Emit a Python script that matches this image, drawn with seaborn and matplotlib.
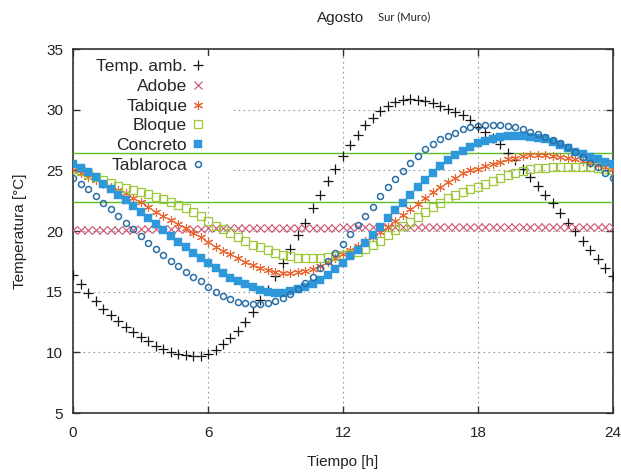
import numpy as np
import matplotlib
matplotlib.use("Agg")
import matplotlib.pyplot as plt
import seaborn as sns

# -----------------------------
# DATOS (una lectura cada 20 min, 0..24 h)
# -----------------------------
tiempo = np.linspace(0, 24, 73)

temp_amb = [16.4, 15.6, 14.9, 14.25, 13.6, 13.05, 12.6, 12.05, 11.7, 11.3,
            10.9, 10.5, 10.25, 10.0, 9.9, 9.75, 9.72, 9.72, 9.9, 10.2,
            10.65, 11.2, 11.8, 12.5, 13.35, 14.3, 15.15, 16.3, 17.4, 18.5,
            19.65, 20.7, 21.9, 23.0, 24.1, 25.15, 26.2, 27.1, 27.95, 28.7,
            29.3, 29.85, 30.3, 30.65, 30.8, 30.9, 30.8, 30.7, 30.55, 30.3,
            30.05, 29.8, 29.55, 29.15, 28.6, 28.2, 27.7, 27.15, 26.45, 25.85,
            25.15, 24.45, 23.75, 23.0, 22.3, 21.5, 20.7, 20.0, 19.2, 18.45,
            17.7, 16.95, 16.3]

adobe = [20.1, 20.1, 20.1, 20.1, 20.1, 20.1, 20.1, 20.1, 20.1, 20.15,
         20.15, 20.15, 20.15, 20.15, 20.15, 20.15, 20.15, 20.15, 20.22, 20.22,
         20.22, 20.22, 20.22, 20.22, 20.22, 20.22, 20.22, 20.28, 20.28, 20.28,
         20.28, 20.28, 20.28, 20.28, 20.28, 20.28, 20.35, 20.35, 20.35, 20.35,
         20.35, 20.35, 20.35, 20.35, 20.35, 20.35, 20.35, 20.35, 20.35, 20.35,
         20.35, 20.35, 20.35, 20.35, 20.35, 20.35, 20.35, 20.35, 20.35, 20.35,
         20.35, 20.35, 20.35, 20.35, 20.35, 20.35, 20.35, 20.35, 20.35, 20.35,
         20.35, 20.35, 20.35]

tabique = [25.03, 24.75, 24.48, 24.2, 23.9, 23.65, 23.4, 23.1, 22.75, 22.35,
           21.95, 21.6, 21.23, 20.9, 20.57, 20.22, 19.86, 19.47, 19.12, 18.72,
           18.37, 18.07, 17.75, 17.47, 17.2, 16.95, 16.78, 16.62, 16.52, 16.52,
           16.6, 16.72, 16.9, 17.12, 17.42, 17.75, 18.1, 18.45, 18.8, 19.15,
           19.5, 19.9, 20.35, 20.85, 21.35, 21.8, 22.25, 22.7, 23.2, 23.65,
           24.05, 24.4, 24.75, 25.0, 25.15, 25.32, 25.52, 25.71, 25.9, 26.04,
           26.18, 26.26, 26.28, 26.28, 26.22, 26.14, 26.04, 25.93, 25.8, 25.63,
           25.44, 25.24, 25.08]

bloque = [25.1, 24.94, 24.67, 24.47, 24.2, 23.95, 23.75, 23.57, 23.42, 23.24,
          23.02, 22.8, 22.6, 22.35, 22.12, 21.86, 21.59, 21.2, 20.8, 20.45,
          20.13, 19.8, 19.5, 19.15, 18.85, 18.65, 18.45, 18.22, 18.03, 17.9,
          17.8, 17.75, 17.74, 17.76, 17.82, 17.9, 18.0, 18.12, 18.3, 18.5,
          18.84, 19.2, 19.66, 20.08, 20.4, 20.76, 21.18, 21.6, 22.0, 22.33,
          22.69, 22.96, 23.24, 23.43, 23.6, 23.85, 24.1, 24.35, 24.6, 24.8,
          24.94, 25.08, 25.16, 25.22, 25.24, 25.26, 25.28, 25.3, 25.3, 25.3,
          25.22, 25.1, 25.0]

concreto = [25.52, 25.16, 24.83, 24.42, 23.9, 23.43, 22.96, 22.55, 22.1, 21.6,
            21.1, 20.57, 20.08, 19.6, 19.12, 18.65, 18.2, 17.75, 17.33, 16.92,
            16.55, 16.15, 15.85, 15.6, 15.35, 15.15, 15.0, 14.92, 14.92, 15.05,
            15.2, 15.4, 15.65, 15.95, 16.37, 16.9, 17.35, 17.93, 18.43, 19.03,
            19.66, 20.35, 21.04, 21.73, 22.33, 22.96, 23.6, 24.2, 24.8, 25.35,
            25.85, 26.26, 26.62, 26.95, 27.25, 27.45, 27.6, 27.72, 27.8, 27.83,
            27.83, 27.77, 27.65, 27.55, 27.36, 27.1, 26.81, 26.55, 26.32, 26.12,
            25.9, 25.71, 25.55]

tablaroca = [24.34, 23.87, 23.43, 22.88, 22.28, 21.78, 21.23, 20.68, 20.13, 19.58,
             19.03, 18.49, 18.02, 17.55, 17.11, 16.64, 16.23, 15.85, 15.38, 15.0,
             14.64, 14.36, 14.17, 14.09, 13.98, 14.0, 14.03, 14.2, 14.44, 14.8,
             15.19, 15.68, 16.23, 16.92, 17.5, 18.15, 18.9, 19.75, 20.5, 21.23,
             22.0, 22.88, 23.6, 24.25, 24.94, 25.63, 26.18, 26.73, 27.2, 27.55,
             27.83, 28.1, 28.38, 28.54, 28.68, 28.73, 28.75, 28.73, 28.65, 28.54,
             28.38, 28.18, 27.96, 27.77, 27.5, 27.22, 26.9, 26.53, 26.12, 25.63,
             25.24, 24.8, 24.34]

# zona de confort
confort_sup = 26.4
confort_inf = 22.4

xticks = [0, 6, 12, 18, 24]
yticks = [5, 10, 15, 20, 25, 30, 35]

# -----------------------------
# ESTILO
# -----------------------------
sns.set_style("ticks")
plt.rcParams['font.family'] = ['Liberation Sans', 'DejaVu Sans']

fig, ax = plt.subplots(figsize=(6.21, 4.73), dpi=100)
fig.subplots_adjust(left=0.1176, right=0.987, top=0.8964, bottom=0.1268)

series = [
    ("Temp. amb.", temp_amb, dict(marker='+', color='#151515', markersize=6.5,
                                  markeredgecolor='#151515', markeredgewidth=0.9)),
    ("Adobe", adobe, dict(marker='x', color='#cc5470', markersize=5.5,
                          markeredgecolor='#cc5470', markeredgewidth=0.8)),
    ("Tabique", tabique, dict(marker=(6, 2, 0), color='#ea6530', markersize=6.5,
                              markeredgecolor='#ea6530', markeredgewidth=0.8)),
    ("Bloque", bloque, dict(marker='s', color='#9cc83a', markersize=5.5,
                            markerfacecolor='none', markeredgecolor='#9cc83a',
                            markeredgewidth=0.9)),
    ("Concreto", concreto, dict(marker='s', color='#2f98da', markersize=5.8,
                                markeredgecolor='#2f98da', markeredgewidth=0.3)),
    ("Tablaroca", tablaroca, dict(marker='o', color='#2a6ea6', markersize=4.3,
                                  markerfacecolor='none', markeredgecolor='#2a6ea6',
                                  markeredgewidth=1.1)),
]

for nombre, valores, estilo in series:
    assert len(valores) == len(tiempo)
    sns.lineplot(x=tiempo, y=valores, ax=ax, label=nombre, linestyle='',
                 errorbar=None, zorder=3, **estilo)

ax.axhline(confort_sup, color='#5cbf2a', lw=1.0, zorder=2.8)
ax.axhline(confort_inf, color='#5cbf2a', lw=1.0, zorder=2.8)

# rejilla punteada
ax.set_axisbelow(True)
ax.grid(True, color='#9a9a9a', linestyle=(0, (1.5, 3)), linewidth=0.8)

# fondo blanco de la leyenda (tapa la rejilla)
ax.add_patch(plt.Rectangle((0.015, 0.662), 0.281, 0.318, transform=ax.transAxes,
                           facecolor='white', edgecolor='none', zorder=0.6))

ax.set_xlim(0, 24)
ax.set_ylim(5, 35)
ax.set_xticks(xticks)
ax.set_yticks(yticks)
ax.tick_params(direction='in', length=5, width=1, top=True, right=True,
               labelsize=11, labelcolor='#222222', color='#333333')
ax.tick_params(axis='x', pad=9)
ax.tick_params(axis='y', pad=7)
for s in ax.spines.values():
    s.set_color('#333333')
    s.set_linewidth(1.2)

ax.set_xlabel("Tiempo [h]", fontsize=11, color='#222222')
ax.set_ylabel("Temperatura [°C]", fontsize=11, color='#222222')
ax.xaxis.set_label_coords(0.5, -0.115)
ax.yaxis.set_label_coords(-0.085, 0.5)

leg = ax.legend(loc='upper right', bbox_to_anchor=(0.2435, 0.972), markerfirst=False,
                frameon=False, fontsize=12.5, labelspacing=0.26, handlelength=0.8,
                handletextpad=0.2, borderpad=0, borderaxespad=0)

fig.text(341 / 621, 1 - 18 / 473, "Agosto", ha='center', va='center',
         fontsize=11, color='#222222')
fig.text(378 / 621, 1 - 17 / 473, "Sur (Muro)", ha='left', va='center',
         fontsize=8, color='#222222', family=['Lato', 'DejaVu Sans'])

fig.savefig("out.png", dpi=100)
